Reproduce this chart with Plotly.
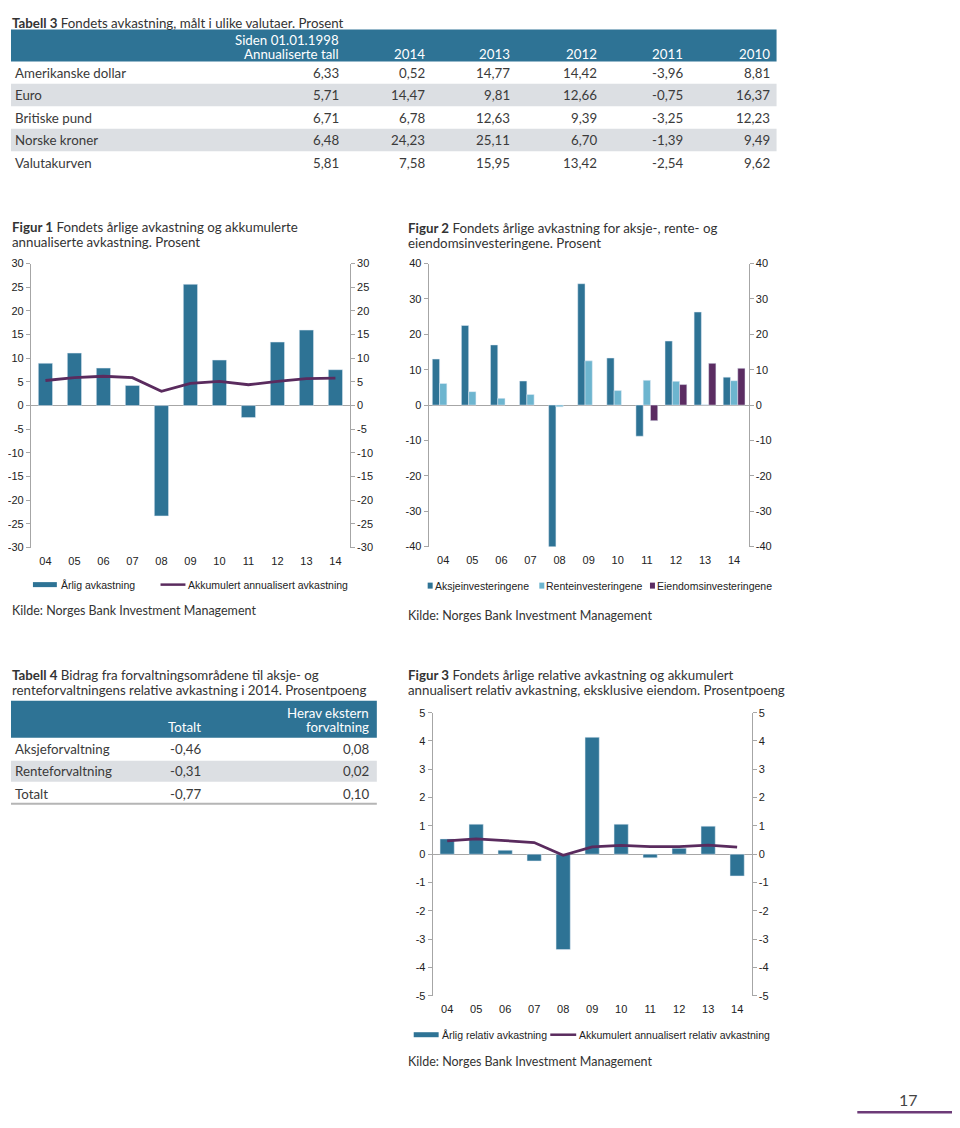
import plotly.graph_objects as go

# Page geometry: the page body adds an offset; the figure is sized so the page fits the window.
OFFX = 8
W, H = 944, 1112
# measured mapping of figure-y to picture-y: pic = A + S * fig
A_Y, S_Y = 14.5, 0.989

SANS = "Lato"
ARIAL = "Liberation Sans"
BLUE = "#2e7395"
LIGHT = "#6db5cf"
PURPLE = "#5b2c62"
LINEC = "#5a2b5e"
GRAY_ROW = "#dcdfe3"
TEXT = "#3a3a3a"
AXIS = "#a6a6a6"

# ---------------- data ----------------
t3_title_bold = "Tabell 3"
t3_title = "Fondets avkastning, målt i ulike valutaer. Prosent"
t3_head_first = ["Siden 01.01.1998", "Annualiserte tall"]
t3_years = ["2014", "2013", "2012", "2011", "2010"]
t3_rows = ["Amerikanske dollar", "Euro", "Britiske pund", "Norske kroner", "Valutakurven"]
t3_since = ["6,33", "5,71", "6,71", "6,48", "5,81"]
t3_2014 = ["0,52", "14,47", "6,78", "24,23", "7,58"]
t3_2013 = ["14,77", "9,81", "12,63", "25,11", "15,95"]
t3_2012 = ["14,42", "12,66", "9,39", "6,70", "13,42"]
t3_2011 = ["-3,96", "-0,75", "-3,25", "-1,39", "-2,54"]
t3_2010 = ["8,81", "16,37", "12,23", "9,49", "9,62"]

years = ["04", "05", "06", "07", "08", "09", "10", "11", "12", "13", "14"]

f1_title = ["<b>Figur 1</b> Fondets årlige avkastning og akkumulerte", "annualiserte avkastning. Prosent"]
f1_names = ["Årlig avkastning", "Akkumulert annualisert avkastning"]
f1_annual = [8.94, 11.09, 7.92, 4.26, -23.31, 25.62, 9.62, -2.54, 13.42, 15.95, 7.58]
f1_cum = [5.3, 5.9, 6.2, 5.9, 3.0, 4.7, 5.1, 4.4, 5.1, 5.7, 5.81]
f1_ticks = [-30, -25, -20, -15, -10, -5, 0, 5, 10, 15, 20, 25, 30]

f2_title = ["<b>Figur 2</b> Fondets årlige avkastning for aksje-, rente- og", "eiendomsinvesteringene. Prosent"]
f2_names = ["Aksjeinvesteringene", "Renteinvesteringene", "Eiendomsinvesteringene"]
f2_equity = [13.0, 22.5, 17.0, 6.8, -40.7, 34.3, 13.3, -8.8, 18.1, 26.3, 7.9]
f2_fixed = [6.1, 3.8, 1.9, 3.0, -0.5, 12.5, 4.1, 7.0, 6.7, 0.1, 6.9]
f2_real = [None, None, None, None, None, None, None, -4.4, 5.8, 11.8, 10.4]
f2_ticks = [-40, -30, -20, -10, 0, 10, 20, 30, 40]

t4_title = ["<b>Tabell 4</b> Bidrag fra forvaltningsområdene til aksje- og",
            "renteforvaltningens relative avkastning i 2014. Prosentpoeng"]
t4_head_total = "Totalt"
t4_head_ext = ["Herav ekstern", "forvaltning"]
t4_rows = ["Aksjeforvaltning", "Renteforvaltning", "Totalt"]
t4_total = ["-0,46", "-0,31", "-0,77"]
t4_ext = ["0,08", "0,02", "0,10"]

f3_title = ["<b>Figur 3</b> Fondets årlige relative avkastning og akkumulert",
            "annualisert relativ avkastning, eksklusive eiendom. Prosentpoeng"]
f3_names = ["Årlig relativ avkastning", "Akkumulert annualisert relativ avkastning"]
f3_annual = [0.54, 1.06, 0.14, -0.24, -3.37, 4.13, 1.06, -0.13, 0.21, 0.99, -0.77]
f3_cum = [0.47, 0.54, 0.48, 0.41, -0.04, 0.26, 0.31, 0.27, 0.27, 0.32, 0.25]
f3_ticks = [-5, -4, -3, -2, -1, 0, 1, 2, 3, 4, 5]

source = "Kilde: Norges Bank Investment Management"
page_no = "17"

# ---------------- helpers ----------------
ann = []
shapes = []


def px(x):
    return max(0.0, (x - OFFX) / W)


def py(y):
    fy = (y - A_Y) / S_Y
    return min(1.0, max(0.0, 1 - fy / H))


def txt(x, y, text, size=13, color=TEXT, anchor="left", family=SANS, yanchor="middle"):
    ann.append(dict(x=px(x), y=py(y), xref="paper", yref="paper", text=text, showarrow=False,
                    xanchor=anchor, yanchor=yanchor, borderpad=0,
                    font=dict(family=family, size=size, color=color)))


def rect(x0, y0, x1, y1, color):
    shapes.append(dict(type="rect", xref="paper", yref="paper", x0=px(x0), x1=px(x1),
                       y0=py(y1), y1=py(y0), fillcolor=color, line=dict(width=0), layer="below"))


def hline(x0, x1, y, color, width):
    shapes.append(dict(type="line", xref="paper", yref="paper", x0=px(x0), x1=px(x1),
                       y0=py(y), y1=py(y), line=dict(color=color, width=width)))


FS = 13.3
# ---------------- Table 3 ----------------
txt(3, 0, "<b>" + t3_title_bold + "</b> " + t3_title, FS, "#333", yanchor="top")
rect(3, 30, 776, 62, BLUE)
txt(338, 40, t3_head_first[0], FS, "white", "right")
txt(338, 54, t3_head_first[1], FS, "white", "right")
t3_xr = [424, 510, 597, 683, 770]
for i, yr in enumerate(t3_years):
    txt(t3_xr[i], 54, yr, FS, "white", "right")
row_y = [73, 95.5, 118, 140.5, 163]
for r, name in enumerate(t3_rows):
    if r % 2 == 1:
        rect(3, row_y[r] - 11.25, 776, row_y[r] + 11.25, GRAY_ROW)
    txt(11, row_y[r], name, FS, TEXT)
    txt(338, row_y[r], t3_since[r], FS, TEXT, "right")
    for c, col in enumerate([t3_2014, t3_2013, t3_2012, t3_2011, t3_2010]):
        txt(t3_xr[c], row_y[r], col[r], FS, TEXT, "right")

# ---------------- Table 4 ----------------
txt(3, 675, t4_title[0], FS, "#333")
txt(3, 690, t4_title[1], FS, "#333")
rect(3, 701, 375, 738, BLUE)
txt(200, 727, t4_head_total, FS, "white", "right")
txt(368, 713, t4_head_ext[0], FS, "white", "right")
txt(368, 727, t4_head_ext[1], FS, "white", "right")
r4_y = [749, 771, 794]
for r, name in enumerate(t4_rows):
    if r == 1:
        rect(3, 761, 375, 782, GRAY_ROW)
    txt(11, r4_y[r], name, FS, TEXT)
    txt(200, r4_y[r], t4_total[r], FS, TEXT, "right")
    txt(368, r4_y[r], t4_ext[r], FS, TEXT, "right")
hline(3, 375, 804, "#b5b5b5", 2)

# ---------------- figure titles / sources ----------------
txt(3, 227, f1_title[0], FS, "#333")
txt(3, 242, f1_title[1], FS, "#333")
txt(405, 228, f2_title[0], FS, "#333")
txt(405, 243, f2_title[1], FS, "#333")
txt(405, 675, f3_title[0], FS, "#333")
txt(405, 690, f3_title[1], FS, "#333")
txt(3, 611, source, 12.5, "#333")
txt(405, 616, source, 12.5, "#333")
txt(405, 1062, source, 12.5, "#333")

# ---------------- legends (drawn) ----------------
rect(30, 582.5, 54, 587.5, BLUE)
txt(57, 585, f1_names[0], 10.5, "#222", family=ARIAL)
hline(158, 183, 585, LINEC, 2.5)
txt(185, 585, f1_names[1], 10.5, "#222", family=ARIAL)

f2_leg_x = [426, 538, 649]
for i, (nm, colr) in enumerate(zip(f2_names, [BLUE, LIGHT, PURPLE])):
    rect(f2_leg_x[i], 583, f2_leg_x[i] + 5, 589, colr)
    txt(f2_leg_x[i] + 6, 586, nm, 10.5, "#222", family=ARIAL)

rect(412, 1032.5, 437, 1037.5, BLUE)
txt(439, 1035, f3_names[0], 10.5, "#222", family=ARIAL)
hline(549, 575, 1035, LINEC, 2.5)
txt(577, 1035, f3_names[1], 10.5, "#222", family=ARIAL)

# page number
txt(908, 1110, page_no, 16, "#444", "center", yanchor="bottom")
hline(857, 960, 1112.5, "#6d3b78", 2.5)

# ---------------- charts ----------------
fig = go.Figure()

fig.add_trace(go.Bar(x=years, y=f1_annual, name=f1_names[0], marker_color=BLUE,
                     width=0.49, offset=-0.245, xaxis="x", yaxis="y", showlegend=False))
fig.add_trace(go.Scatter(x=years, y=f1_cum, name=f1_names[1], mode="lines",
                         line=dict(color=LINEC, width=2.8), xaxis="x", yaxis="y2", showlegend=False))

for vals, colr, off, nm in [(f2_equity, BLUE, -0.375, f2_names[0]),
                            (f2_fixed, LIGHT, -0.125, f2_names[1]),
                            (f2_real, PURPLE, 0.125, f2_names[2])]:
    fig.add_trace(go.Bar(x=years, y=vals, name=nm, marker_color=colr, width=0.25, offset=off,
                         xaxis="x2", yaxis="y3", showlegend=False))
fig.add_trace(go.Scatter(x=years, y=f2_equity, mode="lines", line=dict(width=0), opacity=0,
                         hoverinfo="skip", xaxis="x2", yaxis="y4", showlegend=False))

fig.add_trace(go.Bar(x=years, y=f3_annual, name=f3_names[0], marker_color=BLUE,
                     width=0.49, offset=-0.245, xaxis="x3", yaxis="y5", showlegend=False))
fig.add_trace(go.Scatter(x=years, y=f3_cum, name=f3_names[1], mode="lines",
                         line=dict(color=LINEC, width=2.8), xaxis="x3", yaxis="y6", showlegend=False))

tickfont = dict(family=ARIAL, size=11, color="#222")


def xax(x0, x1, anchor):
    return dict(domain=[px(x0), px(x1)], anchor=anchor, type="category", range=[-0.5, 10.5],
                showline=False, showgrid=False, zeroline=False, ticks="outside", ticklen=3,
                tickcolor="rgba(0,0,0,0)", tickfont=tickfont, fixedrange=True)


def yax(y0, y1, anchor, ticks, side="left", overlay=None):
    d = dict(anchor=anchor, range=[ticks[0], ticks[-1]], tickmode="array", tickvals=ticks,
             ticktext=[str(t) for t in ticks], ticks="outside", ticklen=4, tickcolor=AXIS,
             showline=True, linecolor=AXIS, linewidth=1, showgrid=False, tickfont=tickfont,
             side=side, fixedrange=True)
    if overlay:
        d["overlaying"] = overlay
        d["zeroline"] = False
    else:
        d["domain"] = [py(y1), py(y0)]
        d["zeroline"] = True
        d["zerolinecolor"] = AXIS
        d["zerolinewidth"] = 1
    return d


fig.update_layout(
    width=W, height=H, margin=dict(l=0, r=0, t=0, b=0),
    paper_bgcolor="white", plot_bgcolor="rgba(0,0,0,0)",
    barmode="overlay", showlegend=False,
    xaxis=xax(28, 348, "y"),
    yaxis=yax(264, 548, "x", f1_ticks),
    yaxis2=yax(264, 548, "x", f1_ticks, "right", "y"),
    xaxis2=xax(427, 748, "y3"),
    yaxis3=yax(264, 547, "x2", f2_ticks),
    yaxis4=yax(264, 547, "x2", f2_ticks, "right", "y3"),
    xaxis3=xax(431, 751, "y5"),
    yaxis5=yax(713, 996, "x3", f3_ticks),
    yaxis6=yax(713, 996, "x3", f3_ticks, "right", "y5"),
    annotations=ann, shapes=shapes,
)

fig.write_html("out.html")
